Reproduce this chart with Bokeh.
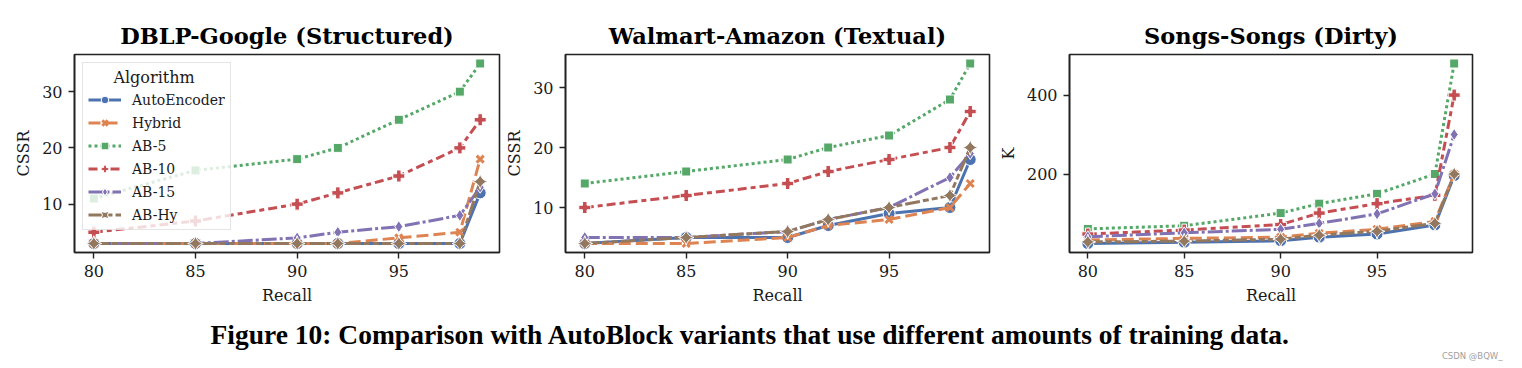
from bokeh.plotting import figure
from bokeh.models import Range1d, FixedTicker, Legend, LegendItem, Label
from bokeh.layouts import column, row
from bokeh.embed import file_html
from bokeh.resources import INLINE

# ---------------- data ----------------
recall = [80, 85, 90, 92, 95, 98, 99]
algorithms = ["AutoEncoder", "Hybrid", "AB-5", "AB-10", "AB-15", "AB-Hy"]

dblp_autoencoder = [3, 3, 3, 3, 3, 3, 12]
dblp_hybrid = [3, 3, 3, 3, 4, 5, 18]
dblp_ab5 = [11, 16, 18, 20, 25, 30, 35]
dblp_ab10 = [5, 7, 10, 12, 15, 20, 25]
dblp_ab15 = [3, 3, 4, 5, 6, 8, 13]
dblp_abhy = [3, 3, 3, 3, 3, 3, 14]

wa_autoencoder = [4, 5, 5, 7, 9, 10, 18]
wa_hybrid = [4, 4, 5, 7, 8, 10, 14]
wa_ab5 = [14, 16, 18, 20, 22, 28, 34]
wa_ab10 = [10, 12, 14, 16, 18, 20, 26]
wa_ab15 = [5, 5, 6, 8, 10, 15, 19]
wa_abhy = [4, 5, 6, 8, 10, 12, 20]

songs_autoencoder = [24, 27, 31, 40, 48, 71, 196]
songs_hybrid = [33, 37, 40, 50, 60, 80, 200]
songs_ab5 = [61, 69, 101, 125, 150, 200, 480]
songs_ab10 = [48, 58, 72, 101, 125, 146, 400]
songs_ab15 = [41, 51, 60, 75, 99, 150, 300]
songs_abhy = [28, 30, 35, 45, 55, 75, 200]

titles = ["DBLP-Google (Structured)", "Walmart-Amazon (Textual)", "Songs-Songs (Dirty)"]
y_labels = ["CSSR", "CSSR", "K"]
x_ticks = [80, 85, 90, 95]
y_ticks = [[10, 20, 30], [10, 20, 30], [200, 400]]
legend_title = "Algorithm"
caption = "Figure 10: Comparison with AutoBlock variants that use different amounts of training data."
watermark = "CSDN @BQW_"

# ---------------- style ----------------
colors = ["#4C72B0", "#DD8452", "#55A868", "#C44E52", "#8172B3", "#937860"]
dashes = ["solid", "12 5", "3 3", "9 4 5 4", "15 3 3 3", "15 3 6 3 6 3"]
markers = ["circle", "x", "square", "plus", "diamond", "square_pin"]
msizes = [12, 10, 9, 12, 12, 11]
angles = [0, 0, 0, 0, 0, 0.785398]
SERIF = "DejaVu Serif"
INK = "#1a1a1a"
TOP_H = 310


def make_panel(i, series, width, border_left, border_right, legend=False):
    ys = [v for s in series for v in s]
    lo, hi = min(ys), max(ys)
    pad = 0.05 * (hi - lo)
    xpad = 0.05 * (max(recall) - min(recall))
    p = figure(width=width, height=TOP_H,
               min_border_left=border_left, min_border_right=border_right,
               min_border_top=54, min_border_bottom=TOP_H - 54 - 198,
               x_range=Range1d(min(recall) - xpad, max(recall) + xpad),
               y_range=Range1d(lo - pad, hi + pad),
               output_backend="svg", toolbar_location=None,
               title=titles[i])
    p.title.text_font = SERIF
    p.title.text_font_style = "bold"
    p.title.text_font_size = "22.5px"
    p.title.align = "center"
    p.title.text_color = "black"
    p.title.standoff = 11
    p.xgrid.visible = False
    p.ygrid.visible = False
    p.outline_line_color = "#222222"
    p.outline_line_width = 1.6
    p.outline_line_alpha = 1.0
    for ax in (p.xaxis[0], p.yaxis[0]):
        ax.minor_tick_line_color = None
        ax.major_tick_out = 6
        ax.major_tick_in = 0
        ax.major_tick_line_color = "#222222"
        ax.major_tick_line_width = 1.4
        ax.axis_line_color = "#222222"
        ax.axis_line_width = 1.6
        ax.major_label_text_font = SERIF
        ax.major_label_text_font_size = "16px"
        ax.major_label_text_color = INK
        ax.axis_label_text_font = SERIF
        ax.axis_label_text_font_size = "16px"
        ax.axis_label_text_font_style = "normal"
        ax.axis_label_text_color = INK
        ax.major_label_standoff = 6
        ax.axis_label_standoff = 6
    p.xaxis.ticker = FixedTicker(ticks=x_ticks)
    p.yaxis.ticker = FixedTicker(ticks=y_ticks[i])
    p.xaxis.axis_label = "Recall"
    p.yaxis.axis_label = y_labels[i]

    items = []
    for k, ser in enumerate(series):
        lr = p.line(recall, ser, line_color=colors[k], line_width=3,
                    line_dash=dashes[k])
        if markers[k] == "x":
            sr = p.scatter(recall, ser, marker="x", size=msizes[k],
                           line_color=colors[k], line_width=3)
        else:
            sr = p.scatter(recall, ser, marker=markers[k], size=msizes[k],
                           angle=angles[k], fill_color=colors[k],
                           line_color="white", line_width=1)
        items.append(LegendItem(label=algorithms[k], renderers=[lr, sr]))
    if legend:
        lg = Legend(items=items, location="top_left",
                    title="\u00a0" * 5 + legend_title)
        lg.title_text_font = SERIF
        lg.title_text_font_size = "16px"
        lg.title_text_font_style = "normal"
        lg.title_text_color = INK
        lg.title_standoff = 3
        lg.label_text_font = SERIF
        lg.label_text_font_size = "14px"
        lg.label_text_color = INK
        lg.glyph_width = 33
        lg.glyph_height = 19
        lg.label_height = 19
        lg.spacing = 4
        lg.padding = 5
        lg.margin = 8
        lg.label_standoff = 11
        lg.border_line_color = "#cccccc"
        lg.border_line_width = 1.2
        lg.background_fill_alpha = 0.8
        p.add_layout(lg)
    return p


p1 = make_panel(0, [dblp_autoencoder, dblp_hybrid, dblp_ab5, dblp_ab10, dblp_ab15, dblp_abhy],
                502, 74, 3, legend=True)
p2 = make_panel(1, [wa_autoencoder, wa_hybrid, wa_ab5, wa_ab10, wa_ab15, wa_abhy],
                493, 61, 6)
p3 = make_panel(2, [songs_autoencoder, songs_hybrid, songs_ab5, songs_ab10, songs_ab15, songs_abhy],
                517, 68, 40)

CAP_W, CAP_H = 1512, 56
cap = figure(width=CAP_W, height=CAP_H, x_range=Range1d(0, CAP_W), y_range=Range1d(0, CAP_H),
             output_backend="svg", toolbar_location=None, x_axis_type=None, y_axis_type=None,
             min_border=0)
cap.outline_line_color = None
cap.xgrid.visible = False
cap.ygrid.visible = False
cap.add_layout(Label(x=750, y=CAP_H - (333.5 - TOP_H), text=caption,
                     text_font="Liberation Serif", text_font_style="bold", text_font_size="27.5px",
                     text_align="center", text_baseline="alphabetic", text_color="black"))
cap.add_layout(Label(x=1502, y=CAP_H - (355 - TOP_H), text=watermark, text_font="DejaVu Sans",
                     text_font_size="8.5px", text_align="right", text_baseline="middle",
                     text_color="#a0a0a0"))

layout = column(row(p1, p2, p3, spacing=0), cap, spacing=0)
open("out.html", "w").write(file_html(layout, INLINE))
